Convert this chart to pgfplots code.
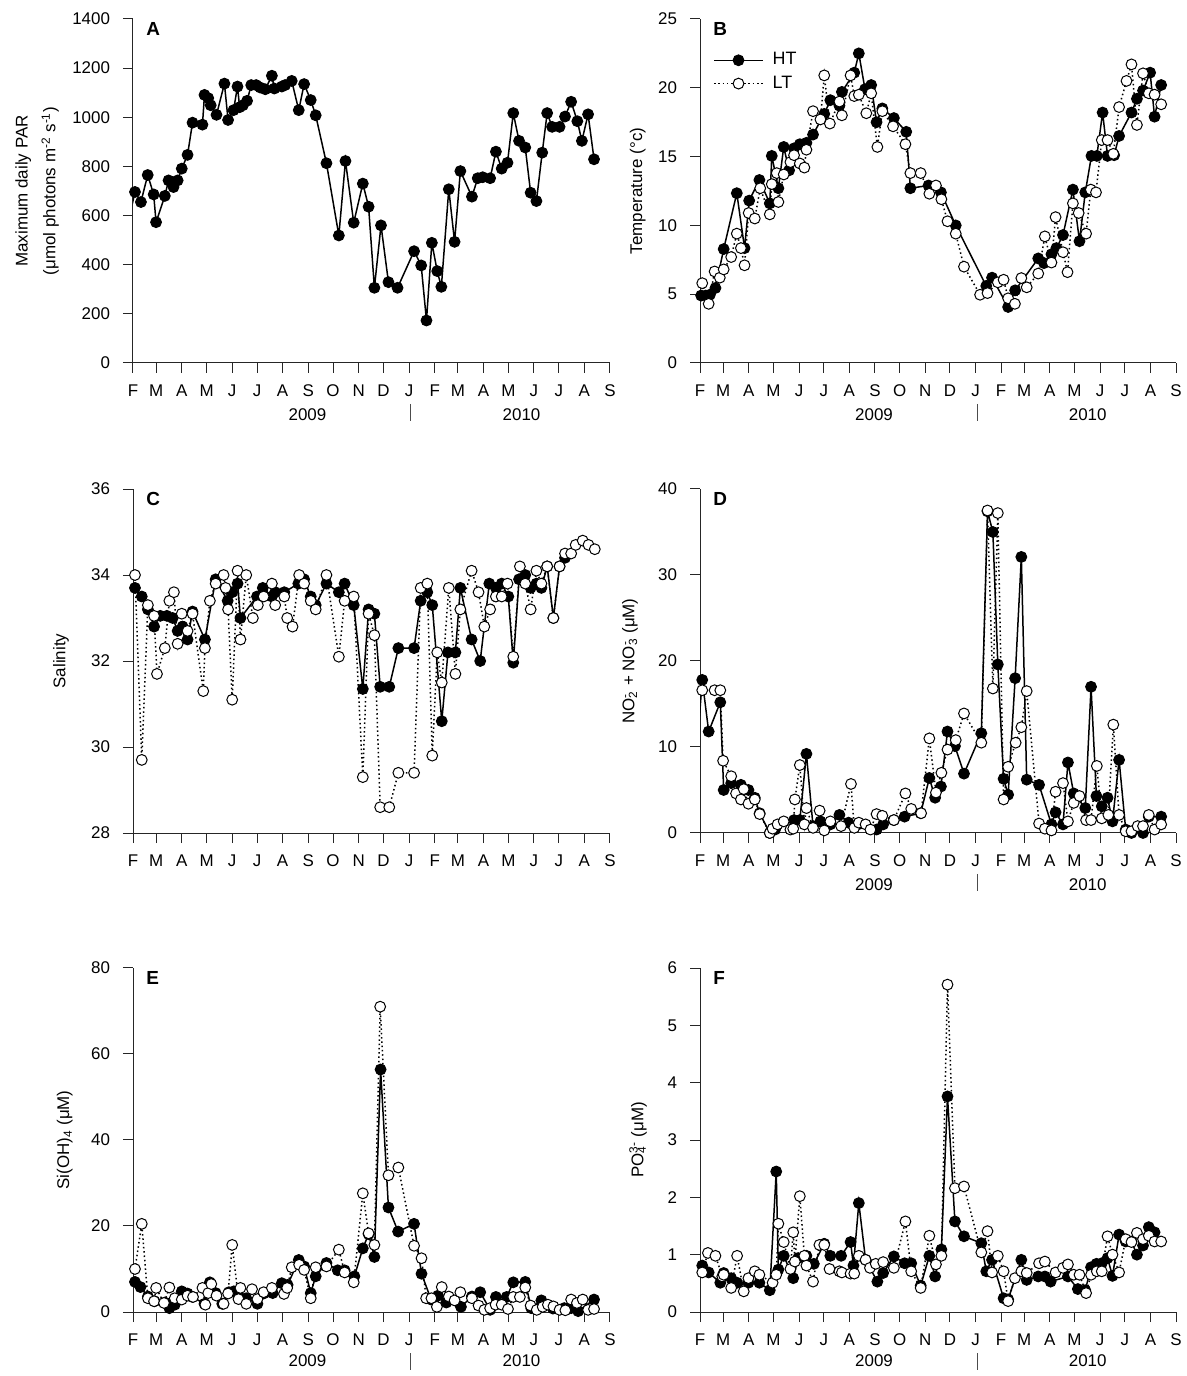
\documentclass[border=0pt]{standalone}
\usepackage{fontspec}
\setmainfont{Liberation Sans}
\usepackage{pgfplots}
\pgfplotsset{compat=1.18}
\newcommand{\supsub}[2]{\setbox0=\hbox{\textsuperscript{#1}}\setbox2=\hbox{\textsubscript{#2}}\ifdim\wd0>\wd2 \rlap{\box2}\box0\else\rlap{\box0}\box2\fi}
\pgfplotsset{
  panel/.style={
    scale only axis, width=238.5bp, height=172bp, anchor=south west,
    xmin=0, xmax=577,
    xtick={0,28,59,89,120,150,181,212,242,273,303,334,365,393,424,454,485,515,546,577},
    xticklabels={F,M,A,M,J,J,A,S,O,N,D,J,F,M,A,M,J,J,A,S},
    axis x line*=bottom, axis y line*=left,
    axis line style={-, line width=0.5bp, black!85},
    tick style={line width=0.5bp, black!85},
    major tick length=5bp, tick align=outside,
    font=\fontsize{8.5}{10}\selectfont,
    /pgf/number format/assume math mode=true,
    /pgf/number format/1000 sep={},
    scaled ticks=false,
    yticklabel style={xshift=-3bp},
    xticklabel style={yshift=-2.5bp},
    clip mode=individual,
    ylabel style={anchor=center},
  },
  ht/.style={black, line width=0.75bp, mark=*, mark size=2.7bp, mark options={solid, fill=black, line width=0.5bp}},
  lt/.style={black, line width=0.75bp, dash pattern=on 0.75bp off 1.4bp, mark=*, mark size=2.7bp, mark options={solid, fill=white, draw=black, line width=0.5bp}},
  lead/.style={black, line width=0.75bp, no marks, forget plot},
}
\newcommand{\years}[1][26bp]{%
  \node[font=\fontsize{8.5}{10}\selectfont, inner sep=0pt] at (axis cs:211,0) [yshift=-#1] {2009};
  \node[font=\fontsize{8.5}{10}\selectfont, inner sep=0pt] at (axis cs:470,0) [yshift=-#1] {2010};
  \draw[line width=0.5bp, black!70] (axis cs:336,0) ++(0bp,-20.5bp) -- ++(0bp,-8.5bp);
}
\newcommand{\letter}[1]{\node[anchor=north west, inner sep=0pt, font=\fontsize{9.5}{10}\selectfont\bfseries] at (rel axis cs:0,1) [xshift=6.5bp, yshift=-1.5bp] {#1};}
\begin{document}
\begin{tikzpicture}
\useasboundingbox (0,0) rectangle (593.5bp,688bp);
% ---------------- A
\begin{axis}[panel, at={(66.5bp,506.5bp)}, ymin=0, ymax=1400, ytick={0,200,...,1400},
  ylabel={Maximum daily PAR\\(μmol photons m\textsuperscript{-2} s\textsuperscript{-1})},
  ylabel style={align=center, font=\fontsize{8.5}{14}\selectfont, at={(axis description cs:-0.201,0.5)}}]
\addplot[lead] coordinates {(-7,555) (2.4,696)};
\addplot[ht] coordinates {(2.4,696) (9.6,655) (17.8,765) (25,686) (27.9,573) (38.5,680) (43,743) (49,716) (54,743) (59,791) (66,847) (72,978) (84,970) (86.5,1091) (91,1078) (94,1049) (101,1010) (110.6,1137) (115,989) (121.6,1029) (126.4,1125) (129,1041) (133,1049) (138,1067) (143,1131) (149,1131) (154,1121) (160,1114) (168,1169) (171,1117) (180,1125) (184,1131) (192,1148) (200.5,1029) (207,1135) (215,1070) (221,1008) (234,813) (249,519) (257,822) (267,571) (278,730) (285,636) (292,306) (300,560) (309,329) (320,306) (340,455) (348.6,397) (355,173) (361.5,489) (368,374) (373,310) (382,707) (389,493) (396,781) (410,677) (417,752) (423,756) (432,752) (439,860) (446,791) (453,815) (460,1017) (467,904) (474.5,877) (481,693) (488,659) (495,856) (501,1017) (507,961) (516,961) (522.6,1003) (530,1063) (537.5,984) (543,904) (550.5,1012) (557.7,829)};
\letter{A}
\years
\end{axis}
% ---------------- B
\begin{axis}[panel, at={(350bp,506.5bp)}, width=238bp, ymin=0, ymax=25, ytick={0,5,...,25},
  ylabel={Temperature (°c)}, ylabel style={at={(axis description cs:-0.131,0.5)}},
  legend style={at={(axis description cs:0.027,0.915)}, anchor=north west, draw=none, fill=none, font=\fontsize{9}{10}\selectfont, row sep=0bp, column sep=2.5bp, inner sep=0pt},
  legend cell align=left,
  legend image code/.code={\draw[mark repeat=2,mark phase=2,#1] plot coordinates {(0bp,0bp) (12.25bp,0bp) (24.5bp,0bp)};}]
\addplot[ht] coordinates {(1.4,4.9) (7,4.9) (12,4.96) (18.7,5.45) (28.7,8.28) (44.6,12.34) (54,8.35) (59.6,11.8) (72,13.3) (84.6,11.6) (87,15.05) (95,12.7) (101.5,15.7) (108,14.0) (114,15.6) (121,15.9) (129,16.0) (137,16.6) (150.6,18.1) (158,19.1) (169,18.7) (172,19.7) (187,21.1) (192.5,22.5) (200,19.9) (207.5,20.2) (214,17.5) (221,18.5) (235,17.8) (250,16.8) (255,12.7) (277,12.9) (292,12.4) (310,10.0) (347,5.6) (354,6.2) (373.5,4.07) (382,5.28) (410,7.6) (417,7.26) (426,7.9) (432,8.35) (440,9.3) (452,12.6) (460,8.85) (467,12.4) (474.5,15.05) (481,15.05) (488,18.2) (494,15.05) (502,15.1) (508,16.5) (523,18.2) (529.6,19.2) (537,19.8) (545.6,21.1) (551,17.9) (559,20.2)};
\addplot[lt] coordinates {(2.7,5.8) (10.5,4.3) (17.7,6.65) (24,6.2) (28.7,6.8) (37.8,7.7) (44.6,9.4) (49.6,8.35) (54,7.1) (59,10.9) (66.4,10.5) (73,12.7) (84.6,10.8) (87,13.0) (93,13.8) (95,11.7) (101.5,13.7) (109.6,14.6) (114,15.1) (121,14.5) (126.5,14.2) (129,15.5) (137,18.3) (146,17.7) (150.6,20.9) (157.4,17.4) (169,19.0) (172,18.0) (182.5,20.9) (187,19.4) (192.5,19.5) (201.6,18.15) (207.5,19.6) (215,15.7) (221,18.3) (234,17.2) (249,15.9) (255,13.8) (267.5,13.8) (278,12.3) (286,12.9) (292.6,11.9) (300,10.3) (310,9.4) (320,7.0) (339.5,4.96) (348.5,5.08) (361,5.86) (368,6.05) (373.5,4.7) (381.7,4.3) (389.5,6.17) (396,5.5) (410,6.5) (418,9.2) (426,7.3) (431,10.6) (440,8.05) (445.5,6.6) (452,11.6) (459,10.9) (468,9.4) (473.7,12.6) (480,12.4) (487,16.2) (494,16.2) (501,15.2) (508,18.6) (517,20.5) (523,21.7) (529.6,17.3) (537,21.05) (544,19.6) (551,19.5) (559,18.8)};
\legend{HT,LT}
\letter{B}
\years
\end{axis}
% ---------------- C
\begin{axis}[panel, at={(66.5bp,271.5bp)}, ymin=28, ymax=36, ytick={28,30,...,36},
  ylabel={Salinity}, ylabel style={at={(axis description cs:-0.151,0.5)}}]
\addplot[ht] coordinates {(2.4,33.7) (10.6,33.5) (18,33.2) (25.5,32.8) (33,33.05) (41,33.05) (48,33.0) (54,32.7) (60,32.8) (66,32.5) (72,33.15) (87,32.5) (100,33.9) (114.5,33.4) (120,33.6) (126.5,33.8) (130,33.0) (150,33.5) (157,33.7) (168,33.5) (172,33.6) (183,33.6) (200,33.8) (207,33.9) (215,33.5) (221,33.3) (234,33.8) (249,33.6) (256,33.8) (267,33.3) (278,31.35) (285,33.2) (292,33.1) (299,31.4) (310,31.4) (321,32.3) (340,32.3) (348,33.4) (356,33.6) (362,33.3) (373.5,30.6) (381,32.2) (390,32.2) (396,33.7) (409.6,32.5) (420,32.0) (431,33.8) (439,33.7) (446,33.8) (454,33.5) (460,31.96) (467,33.9) (474.5,34.0) (481,33.7) (488,33.8) (494,33.7) (501,34.2) (508.5,33.0) (516,34.2) (522.6,34.4)};
\addplot[lt] coordinates {(2.4,34.0) (10.6,29.7) (18,33.3) (25.5,33.05) (29,31.7) (38.5,32.3) (44,33.4) (49.5,33.6) (54,32.4) (59,33.1) (66,32.7) (72,33.1) (85,31.3) (87,32.3) (93,33.4) (100,33.8) (109.6,34.0) (112,33.7) (115,33.2) (120,31.1) (126.5,34.1) (130,32.5) (137,34.0) (145,33.0) (151,33.3) (158,33.5) (168,33.8) (172,33.3) (183,33.5) (186.5,33.0) (193,32.8) (201,34.0) (207,33.8) (215,33.4) (221,33.2) (234,34.0) (249,32.1) (256,33.4) (267,33.5) (278,29.3) (285,33.1) (292,32.6) (299,28.6) (310,28.6) (321,29.4) (340,29.4) (348,33.7) (356,33.8) (362,29.8) (368,32.2) (373.5,31.5) (382,33.7) (390,31.7) (396,33.2) (409.6,34.1) (418,33.6) (425,32.8) (432,33.2) (439,33.5) (446,33.5) (453,33.8) (460,32.1) (468,34.2) (474.5,33.8) (481,33.2) (488,34.1) (494,33.8) (501,34.2) (508.5,33.0) (516,34.2) (522.6,34.5) (530,34.5) (535.5,34.7) (544,34.8) (551,34.7) (558.6,34.6)};
\letter{C}
\years
\end{axis}
% ---------------- D
\begin{axis}[panel, at={(350bp,271.5bp)}, width=238bp, ymin=0, ymax=40, ytick={0,10,...,40},
  ylabel={NO\supsub{-}{2}\ + NO\supsub{-}{3}\ (μM)}, ylabel style={at={(axis description cs:-0.147,0.5)}}]
\addplot[lead] coordinates {(-5,8) (2.7,17.8)};
\addplot[ht] coordinates {(2.7,17.8) (10.5,11.8) (24.6,15.2) (28.7,5.0) (37.8,5.8) (49.6,5.6) (58.7,5.0) (66.4,4.1) (72.3,2.3) (84.6,0) (91,0.4) (114,1.5) (121,1.5) (129,9.2) (137,0.8) (146,1.35) (158,1.0) (169,2.1) (180,1.2) (191.6,1.0) (214,0.4) (222,1.0) (235,1.5) (248,1.9) (267.5,2.3) (278,6.4) (285,4.1) (292,5.4) (300,11.8) (309,10.1) (320,6.9) (341,11.6) (348.5,37.4) (355,35.0) (361,19.6) (368,6.3) (373.5,4.45) (382,18.0) (389.5,32.1) (396,6.2) (411,5.6) (426,1.0) (431,2.4) (440,1.0) (446,8.2) (453,4.6) (467,2.9) (474,17.0) (480.5,4.3) (487,3.1) (494,4.1) (500,1.35) (508,8.5) (516,0.4) (523,0) (537,0) (544,1.9) (559,1.9)};
\addplot[lt] coordinates {(2.7,16.6) (17.7,16.6) (24.6,16.6) (28,8.4) (37.8,6.6) (43.7,4.6) (49.6,3.9) (53,5.1) (58.7,3.4) (66.4,3.9) (72.3,2.2) (84.6,0) (88,0.5) (94,1.0) (101.5,1.35) (109.6,0.4) (113,0.5) (115,3.9) (121,7.9) (126.5,1.0) (129,2.9) (137,0.6) (145,2.6) (150.6,0.3) (158,1.35) (171,0.8) (183,5.7) (187,0.6) (192.5,1.2) (200.7,1.0) (206.6,0.4) (214,2.2) (221,2.0) (235,1.5) (249,4.6) (256,2.8) (268,2.3) (278,11.0) (286,4.7) (292.6,7.0) (300,9.7) (310,10.8) (320,13.9) (341,10.5) (348.5,37.5) (355,16.8) (361,37.2) (368,3.9) (373.5,7.7) (382.6,10.5) (389.5,12.3) (396,16.5) (411,1.1) (418,0.5) (426,0.3) (431,4.8) (440,5.8) (446,1.35) (453,3.5) (460,4.3) (468,1.5) (474,1.5) (481,7.8) (487,1.7) (495,2.1) (501,12.6) (508,2.1) (516,0.2) (523,0.2) (530.5,0.8) (537,0.8) (544,2.1) (551,0.4) (559,1.0)};
\letter{D}
\years
\end{axis}
% ---------------- E
\begin{axis}[panel, at={(66.5bp,32bp)}, ymin=0, ymax=80, ytick={0,20,...,80},
  ylabel={Si(OH)\textsubscript{4} (μM)}, ylabel style={at={(axis description cs:-0.143,0.5)}}]
\addplot[ht] coordinates {(2.4,7.0) (9,5.8) (18,3.6) (26,2.5) (38.5,2.2) (44,0.9) (50.5,1.7) (59,4.8) (66,4.3) (72,3.5) (86.5,1.9) (93,6.9) (100,4.4) (108,1.9) (116,4.6) (122,4.8) (130,3.2) (137,3.2) (150.5,1.9) (158,4.3) (169,4.4) (180,6.7) (187,6.3) (200.5,12.1) (207,10.6) (215,4.4) (221,8.3) (234,11.4) (247.6,9.7) (256,9.7) (267.8,8.3) (278,14.8) (285,18.1) (292,12.8) (299.5,56.4) (309,24.3) (320.7,18.7) (340,20.5) (349,8.9) (360.6,2.9) (369,3.8) (379,2.2) (396.7,1.2) (410,3.6) (420,4.6) (432,0.5) (439,3.5) (452,3.5) (460,6.9) (474.5,7.0) (481.7,0.9) (494,2.7) (508,0.8) (521.6,0.9) (530,0.9) (538.5,0.2) (557.7,2.9)};
\addplot[lt] coordinates {(2.4,10.0) (10.6,20.5) (18,3.2) (25.5,2.5) (28,5.6) (37.5,2.1) (44,5.7) (50.5,3.2) (59,2.9) (66,3.8) (72.6,3.5) (84,5.6) (87.5,1.7) (91,4.4) (94.7,6.5) (101,3.8) (109.6,1.9) (115,4.3) (120,15.6) (127.6,3.0) (130,5.6) (137,1.9) (144,5.3) (150.5,3.0) (158,4.6) (168,5.6) (182.6,4.2) (186.5,5.6) (192,10.4) (201,11.0) (207,9.8) (215,3.2) (221,10.4) (234,10.6) (249,14.5) (256,9.2) (267,6.9) (278,27.6) (285,18.3) (292,15.6) (299,71.0) (309,31.8) (321,33.6) (340,15.4) (349,12.5) (354.6,3.2) (361,3.2) (367.6,1.2) (373.5,5.8) (382,3.6) (389,2.7) (396,4.6) (410,3.2) (418,1.5) (425,0.5) (432,0.9) (438.6,1.7) (446,1.7) (453.6,0.7) (460,3.5) (468,3.5) (474.5,5.7) (481,1.5) (488.4,0.5) (495.6,1.2) (501.9,1.7) (508.6,1.3) (516,0.5) (523,0.4) (530,2.9) (537,2.1) (544,2.9) (550.5,0.5) (557.7,0.7)};
\letter{E}
\years[24.5bp]
\end{axis}
% ---------------- F
\begin{axis}[panel, at={(350bp,32bp)}, width=238bp, ymin=0, ymax=6, ytick={0,1,...,6},
  ylabel={PO\supsub{3-}{4}\ (μM)}, ylabel style={at={(axis description cs:-0.13,0.5)}}]
\addplot[ht] coordinates {(2.7,0.81) (10.5,0.69) (24.6,0.51) (28.7,0.68) (37.8,0.59) (45,0.51) (58.7,0.51) (72,0.51) (84.6,0.38) (92.4,2.45) (95,0.74) (101.5,0.98) (113,0.59) (119,0.94) (129,0.98) (138,0.84) (150.6,1.19) (158,0.98) (171,0.98) (182.5,1.22) (186,0.81) (192.5,1.9) (200.7,0.91) (215,0.53) (222,0.68) (235,0.97) (248,0.85) (256,0.85) (267.5,0.46) (278,0.98) (285,0.62) (292.6,1.09) (300,3.76) (309,1.58) (320,1.32) (341,1.2) (347,0.71) (354,0.91) (368,0.24) (373.5,0.22) (389.5,0.91) (396,0.56) (410,0.62) (418,0.62) (425,0.53) (446,0.62) (458,0.4) (467,0.38) (474,0.78) (480.5,0.84) (487,0.85) (494,0.94) (500,0.63) (508,1.35) (516,1.23) (523,1.23) (529.6,1.0) (537,1.16) (544,1.48) (551,1.39)};
\addplot[lt] coordinates {(2.7,0.69) (9.6,1.03) (18.7,0.98) (27,0.62) (28.7,0.65) (37.8,0.42) (45,0.98) (53,0.36) (58.7,0.59) (66.4,0.71) (72,0.65) (88,0.51) (92.4,0.65) (95,1.54) (101.5,1.22) (109.6,0.75) (113,1.39) (115,0.88) (121,2.02) (126.5,0.98) (129,0.81) (137,0.53) (144.7,1.17) (150.6,1.17) (157,0.75) (169,0.71) (172,0.69) (182.5,0.67) (187,0.67) (192.5,0.98) (200.7,0.91) (206,0.77) (213,0.84) (222,0.87) (235,0.77) (249,1.58) (256,0.71) (267.5,0.42) (278,1.33) (286,0.83) (292.6,0.98) (300,5.71) (309,2.16) (320,2.19) (341,1.04) (348.5,1.41) (354,0.69) (361,0.98) (368,0.71) (373.5,0.19) (381.7,0.59) (389.5,0.71) (396,0.68) (411,0.85) (418,0.88) (431,0.69) (440,0.77) (446,0.83) (453,0.65) (460,0.65) (468,0.33) (474,0.65) (481,0.71) (487,0.71) (494,1.32) (500,1.0) (508,0.69) (516,1.27) (523,1.22) (529.6,1.38) (537,1.27) (544,1.33) (551,1.23) (559,1.23)};
\letter{F}
\years[24.5bp]
\end{axis}
\end{tikzpicture}
\end{document}
